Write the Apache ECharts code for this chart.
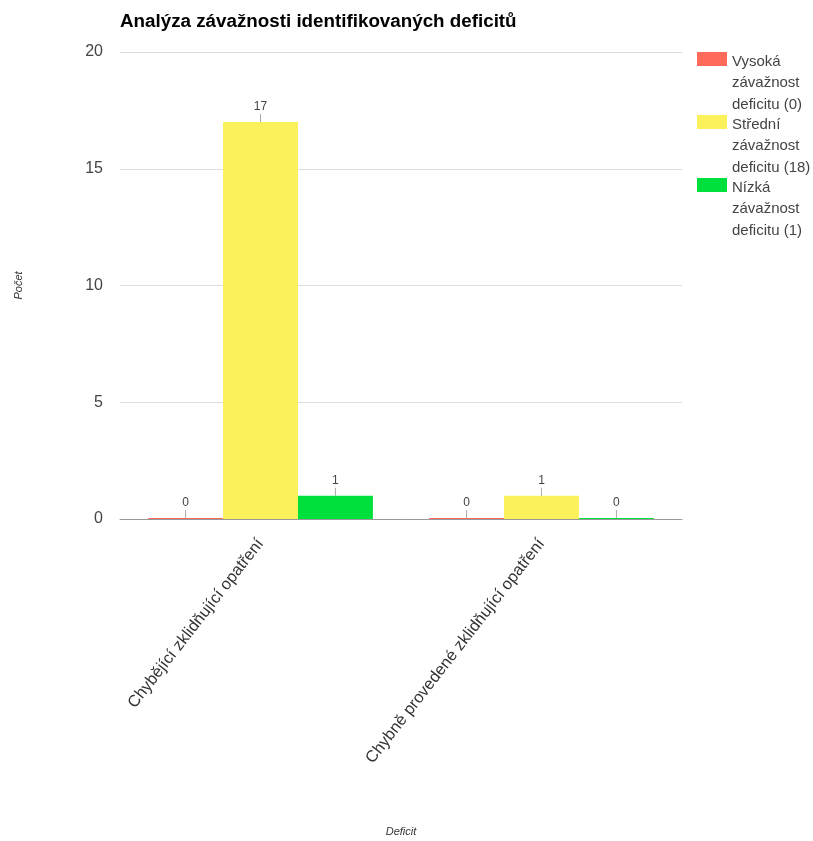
<!DOCTYPE html>
<html>
<head>
<meta charset="utf-8">
<script src="https://cdn.jsdelivr.net/npm/echarts@6/dist/echarts.min.js"></script>
<style>html,body{margin:0;padding:0;background:#fff}#c{width:813px;height:841px}</style>
</head>
<body>
<div id="c"></div>
<script>
const titleText = 'Analýza závažnosti identifikovaných deficitů';
const categories = ['Chybějící zklidňující opatření', 'Chybně provedené zklidňující opatření'];
const seriesNames = ['Vysoká závažnost deficitu (0)', 'Střední závažnost deficitu (18)', 'Nízká závažnost deficitu (1)'];
const highValues = [0, 0];
const mediumValues = [17, 1];
const lowValues = [1, 0];
const seriesColors = ['#ff6a5a', '#fbf15a', '#00e03d'];
const yTicks = [0, 5, 10, 15, 20];
const xAxisName = 'Deficit';
const yAxisName = 'Počet';

const FONT = 'Liberation Sans, Arial, sans-serif';
const chart = echarts.init(document.getElementById('c'), null, {renderer: 'canvas'});

function makeSeries(name, data, color) {
  return {
    name: name,
    type: 'bar',
    data: data,
    barGap: '0%',
    barCategoryGap: '20%',
    barMinHeight: 1,
    itemStyle: {color: color},
    emphasis: {disabled: true},
    label: {
      show: true,
      position: 'top',
      distance: 0,
      formatter: '{v|{c}}\n{t|}',
      rich: {
        v: {fontSize: 12, color: '#444', fontFamily: FONT, lineHeight: 14, align: 'center'},
        t: {width: 1, height: 8, backgroundColor: '#aaa', align: 'center'}
      }
    }
  };
}

// legend icon: 30x14 swatch aligned with the first text line of a 3-line label
const legendIcon = 'path://M0,0 L30,0 L0,0 Z M0,1 L30,1 L30,15 L0,15 Z M0,64.5 L30,64.5 L0,64.5 Z';

chart.setOption({
  animation: false,
  backgroundColor: '#fff',
  title: {
    text: titleText,
    left: 120,
    top: 12,
    padding: 0,
    textStyle: {fontFamily: FONT, fontSize: 18.8, fontWeight: 'bold', color: '#000'}
  },
  legend: {
    orient: 'vertical',
    left: 697,
    top: 51,
    itemWidth: 30,
    itemHeight: 64.5,
    itemGap: -1.5,
    icon: legendIcon,
    align: 'left',
    padding: 0,
    itemStyle: {borderWidth: 0},
    data: seriesNames,
    formatter: function (n) { return n.replace(/ /g, '\n').replace('\n(', ' ('); },
    textStyle: {fontFamily: FONT, fontSize: 15, color: '#444', lineHeight: 21.5}
  },
  grid: {left: 120, right: 131, top: 52, bottom: 322, containLabel: false, outerBoundsMode: 'none'},
  xAxis: {
    type: 'category',
    data: categories,
    name: xAxisName,
    nameLocation: 'middle',
    nameGap: 307,
    nameTextStyle: {fontFamily: FONT, fontSize: 11, fontStyle: 'italic', color: '#333'},
    axisLine: {show: true, lineStyle: {color: '#999'}},
    axisTick: {show: false},
    axisLabel: {rotate: 52, interval: 0, margin: 22, fontFamily: FONT, fontSize: 16.4, color: '#333'}
  },
  yAxis: {
    type: 'value',
    min: yTicks[0],
    max: yTicks[yTicks.length - 1],
    interval: 5,
    name: yAxisName,
    nameLocation: 'middle',
    nameGap: 96,
    nameRotate: 90,
    nameTextStyle: {fontFamily: FONT, fontSize: 11, fontStyle: 'italic', color: '#333'},
    axisLine: {show: false},
    axisTick: {show: false},
    axisLabel: {margin: 17, fontFamily: FONT, fontSize: 16, color: '#444'},
    splitLine: {lineStyle: {color: '#ddd'}}
  },
  series: [
    makeSeries(seriesNames[0], highValues, seriesColors[0]),
    makeSeries(seriesNames[1], mediumValues, seriesColors[1]),
    makeSeries(seriesNames[2], lowValues, seriesColors[2])
  ]
});
</script>
</body>
</html>
